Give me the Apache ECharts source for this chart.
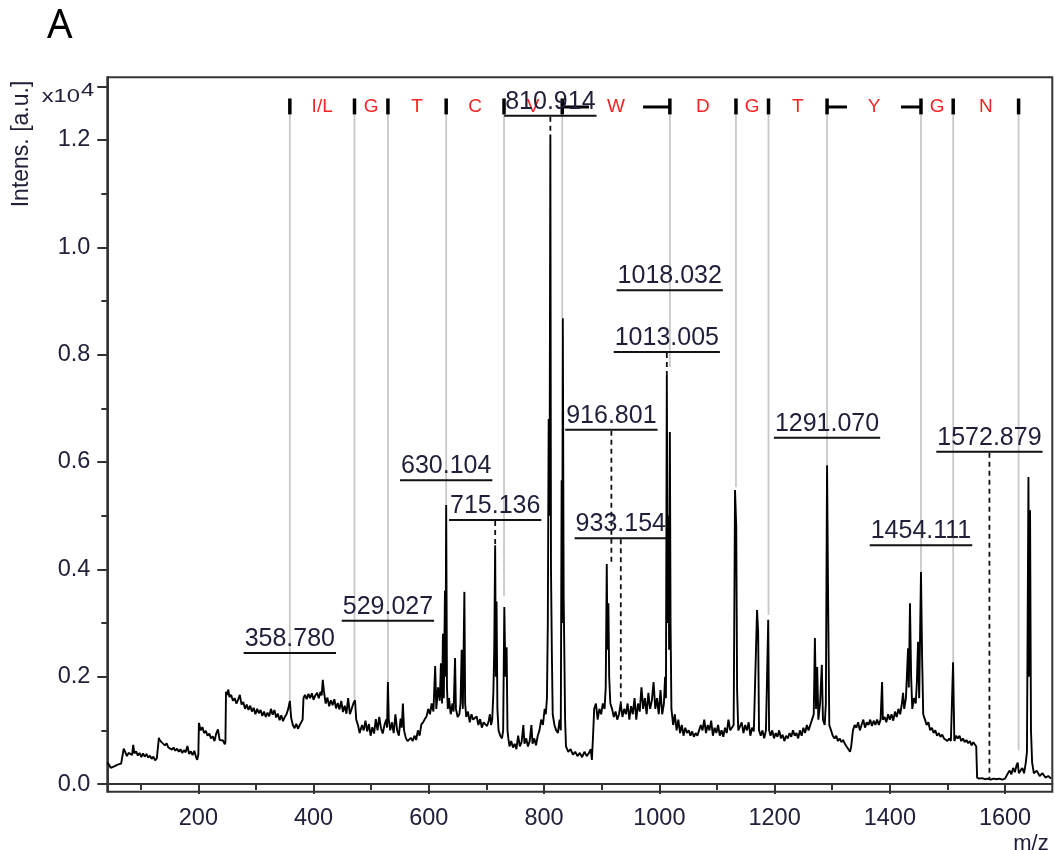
<!DOCTYPE html>
<html>
<head>
<meta charset="utf-8">
<script src="https://cdn.jsdelivr.net/npm/echarts@6.0.0/dist/echarts.min.js"></script>
<style>
html,body{margin:0;padding:0;background:#fff;}
#chart{width:1055px;height:850px;}
</style>
</head>
<body>
<div id="chart"></div>
<script>
// ---------- DATA ----------
// x-axis (m/z) and y-axis (intensity x10^4) ticks
const xMajorTicks = [200, 400, 600, 800, 1000, 1200, 1400, 1600];
const xMinorTicks = [100, 200, 300, 400, 500, 600, 700, 800, 900, 1000, 1100, 1200, 1300, 1400, 1500, 1600];
const yMajorTicks = [0, 0.2, 0.4, 0.6, 0.8, 1.0, 1.2, 1.3];
const yLabelTicks = [0, 0.2, 0.4, 0.6, 0.8, 1.0, 1.2];
const yMinorTicks = [0, 0.1, 0.2, 0.3, 0.4, 0.5, 0.6, 0.7, 0.8, 0.9, 1.0, 1.1, 1.2, 1.3];

// spectrum [m/z, intensity (x10^4 a.u.)]
const spectrum = [
[42,0.040],[45,0.036],[48,0.030],[51,0.028],[54,0.033],[57,0.030],[60,0.036],[63,0.034],[66,0.038],[69,0.035],
[70.5,0.066],[73,0.060],[76,0.052],[79,0.058],[82,0.061],[85,0.054],[87,0.073],[89,0.057],[92,0.061],[95,0.053],
[98,0.058],[101,0.050],[104,0.057],[107,0.051],[110,0.056],[113,0.049],[116,0.053],[119,0.047],[122,0.051],[125,0.044],
[128,0.048],[130,0.046],[131.5,0.086],[133,0.082],[136,0.078],[139,0.081],[142,0.072],[145,0.076],[148,0.068],[151,0.071],
[154,0.064],[157,0.068],[160,0.062],[163,0.066],[166,0.060],[169,0.065],[172,0.058],[175,0.063],[178,0.059],[181,0.071],
[184,0.056],[187,0.061],[190,0.054],[193,0.062],[196,0.050],[198,0.045],[200,0.055],[201,0.114],[204,0.100],[207,0.106],
[210,0.095],[213,0.099],[216,0.090],[219,0.094],[222,0.085],[225,0.089],[228,0.080],[231,0.094],[234,0.102],[237,0.082],
[240,0.079],[243,0.081],[246,0.074],[247,0.078],[248,0.172],[250,0.166],[252,0.176],[254,0.162],[257,0.166],[260,0.155],
[263,0.160],[266,0.150],[269,0.157],[272,0.166],[275,0.148],[278,0.153],[281,0.140],[284,0.148],[287,0.138],[290,0.146],
[293,0.135],[296,0.142],[299,0.130],[302,0.140],[305,0.132],[308,0.138],[311,0.127],[314,0.135],[317,0.125],[320,0.133],
[323,0.126],[326,0.140],[329,0.129],[332,0.138],[335,0.124],[338,0.131],[341,0.119],[344,0.128],[347,0.117],[350,0.125],
[353,0.130],[356,0.140],[358.8,0.155],[361,0.124],[364,0.110],[367,0.104],[370,0.112],[373,0.103],[376,0.110],[379,0.107],
[381,0.120],[382.5,0.160],[385,0.166],[388,0.158],[391,0.168],[394,0.160],[397,0.169],[400,0.157],[403,0.165],[406,0.170],
[409,0.160],[412,0.172],[414,0.165],[416,0.194],[418,0.172],[421,0.150],[424,0.161],[427,0.145],[430,0.156],[433,0.147],
[436,0.158],[439,0.141],[442,0.151],[445,0.139],[448,0.155],[451,0.134],[454,0.146],[457,0.131],[460,0.160],[463,0.130],
[466,0.140],[469,0.150],[471.9,0.156],[474,0.120],[477,0.110],[480,0.095],[481,0.095],[484,0.110],[487,0.100],[490,0.118],
[493,0.098],[496,0.112],[499,0.090],[502,0.106],[505,0.094],[508,0.121],[511,0.100],[514,0.125],[517,0.104],[520,0.094],
[523,0.110],[526,0.120],[527.5,0.105],[529,0.190],[530.5,0.120],[533,0.100],[536,0.115],[539,0.095],[542,0.130],[545,0.100],
[548,0.090],[551,0.122],[553,0.105],[555,0.150],[557,0.100],[560,0.086],[563,0.080],[566,0.077],[569,0.086],[572,0.080],
[575,0.090],[578,0.082],[581,0.100],[584,0.090],[587,0.111],[590,0.115],[593,0.121],[596,0.126],[599,0.140],[602,0.130],
[605,0.150],[608,0.135],[611,0.220],[613,0.140],[616,0.180],[619,0.155],[621,0.225],[623,0.150],[624.5,0.280],[626,0.160],
[628,0.360],[629,0.200],[630.1,0.520],[631.5,0.180],[633,0.140],[635,0.160],[638,0.130],[641,0.150],[643,0.135],[645.5,0.235],
[647,0.140],[650,0.125],[653,0.130],[655,0.150],[657,0.250],[659,0.140],[661.7,0.358],[663,0.150],[665,0.125],[668,0.135],
[671,0.115],[674,0.130],[677,0.120],[680,0.118],[683,0.126],[686,0.110],[689,0.121],[692,0.105],[695,0.115],[698,0.112],
[701,0.108],[704,0.118],[706,0.130],[708,0.110],[710,0.120],[712,0.170],[713.5,0.250],[715.1,0.445],[716.3,0.200],[717.5,0.340],
[719,0.140],[721,0.100],[724,0.090],[727,0.085],[729,0.100],[731,0.330],[733,0.200],[735,0.255],[736.5,0.100],[738,0.085],
[740,0.070],[743,0.080],[746,0.068],[749,0.075],[752,0.065],[755,0.090],[758,0.070],[761,0.078],[764,0.110],[766,0.075],
[769,0.085],[772,0.070],[775,0.080],[778,0.110],[780,0.075],[783,0.085],[786,0.072],[789,0.090],[792,0.100],[795,0.120],
[798,0.110],[801,0.140],[803,0.130],[805,0.160],[806.5,0.300],[808,0.680],[809.5,0.500],[810.9,1.210],[812,0.400],[813.5,0.244],
[815,0.130],[818,0.110],[821,0.100],[824,0.095],[827,0.120],[829,0.100],[830.5,0.566],[831.5,0.300],[832.5,0.868],[834,0.350],
[835,0.347],[836.5,0.120],[838,0.070],[842,0.060],[846,0.065],[850,0.055],[854,0.060],[858,0.052],[862,0.058],[866,0.050],
[870,0.060],[874,0.052],[878,0.058],[881,0.065],[883,0.045],[885,0.090],[887,0.140],[890,0.150],[893,0.120],[896,0.140],
[899,0.130],[902,0.150],[905,0.140],[907,0.180],[908.8,0.410],[910,0.250],[911.6,0.337],[913,0.200],[915,0.150],[918,0.140],
[921,0.125],[924,0.135],[927,0.120],[930,0.130],[933,0.150],[936,0.125],[939,0.140],[942,0.130],[945,0.150],[948,0.120],
[951,0.145],[954,0.130],[957,0.160],[960,0.120],[963,0.150],[966,0.135],[969,0.180],[972,0.140],[975,0.160],[978,0.130],
[981,0.170],[984,0.140],[987,0.155],[990,0.190],[993,0.140],[996,0.160],[999,0.130],[1002,0.175],[1005,0.130],[1008,0.150],
[1010,0.200],[1011.5,0.160],[1013,0.762],[1014.5,0.300],[1016,0.500],[1017,0.250],[1018.3,0.656],[1019.5,0.300],[1021,0.140],[1024,0.110],
[1027,0.130],[1030,0.100],[1033,0.120],[1036,0.095],[1039,0.110],[1042,0.090],[1045,0.105],[1048,0.095],[1051,0.100],[1054,0.090],
[1057,0.098],[1060,0.088],[1063,0.095],[1066,0.090],[1069,0.100],[1072,0.110],[1075,0.100],[1078,0.120],[1081,0.095],[1084,0.110],
[1087,0.100],[1090,0.118],[1093,0.090],[1096,0.105],[1099,0.095],[1102,0.110],[1105,0.090],[1108,0.100],[1111,0.088],[1114,0.105],
[1117,0.095],[1120,0.120],[1123,0.100],[1126,0.105],[1129,0.110],[1131.4,0.548],[1133.5,0.480],[1135,0.175],[1137,0.100],[1140,0.100],
[1143,0.115],[1146,0.095],[1149,0.110],[1152,0.100],[1155,0.115],[1158,0.090],[1161,0.105],[1164,0.098],[1167,0.100],[1169.6,0.324],
[1171.5,0.283],[1173,0.100],[1176,0.090],[1179,0.100],[1182,0.085],[1185,0.100],[1187,0.200],[1189,0.306],[1190.5,0.100],[1193,0.090],
[1196,0.100],[1199,0.085],[1202,0.095],[1205,0.088],[1208,0.100],[1211,0.085],[1214,0.092],[1217,0.080],[1220,0.090],[1223,0.085],
[1226,0.095],[1229,0.088],[1232,0.100],[1235,0.090],[1238,0.095],[1241,0.085],[1244,0.100],[1247,0.090],[1250,0.105],[1253,0.095],
[1256,0.110],[1259,0.100],[1262,0.110],[1265,0.120],[1268,0.130],[1270,0.272],[1272,0.140],[1274,0.218],[1276,0.120],[1279,0.150],
[1282,0.222],[1284,0.120],[1287,0.110],[1289,0.150],[1291.1,0.594],[1293,0.334],[1295,0.110],[1298,0.100],[1301,0.090],[1304,0.085],
[1307,0.090],[1310,0.080],[1313,0.085],[1316,0.078],[1319,0.082],[1322,0.075],[1325,0.070],[1328,0.068],[1331,0.060],[1333,0.070],
[1336,0.100],[1339,0.110],[1342,0.105],[1345,0.115],[1348,0.100],[1351,0.110],[1354,0.120],[1357,0.105],[1360,0.115],[1363,0.110],
[1366,0.120],[1369,0.108],[1372,0.118],[1375,0.110],[1378,0.120],[1381,0.110],[1384,0.120],[1386.6,0.190],[1388,0.120],[1391,0.125],
[1394,0.115],[1397,0.130],[1400,0.120],[1403,0.130],[1406,0.118],[1409,0.135],[1412,0.125],[1415,0.140],[1418,0.130],[1421,0.150],
[1423,0.170],[1425,0.140],[1428,0.160],[1431.7,0.253],[1433,0.180],[1435,0.337],[1437,0.200],[1439,0.140],[1442,0.160],[1445,0.150],
[1447,0.190],[1449,0.265],[1451,0.160],[1454.1,0.395],[1456,0.240],[1458,0.130],[1461,0.120],[1464,0.110],[1467,0.115],[1470,0.100],
[1473,0.105],[1476,0.095],[1479,0.100],[1482,0.090],[1485,0.095],[1488,0.088],[1491,0.092],[1494,0.085],[1497,0.088],[1500,0.080],
[1503,0.085],[1506,0.080],[1509.8,0.227],[1512,0.080],[1515,0.090],[1518,0.085],[1521,0.090],[1524,0.080],[1527,0.085],[1530,0.078],
[1533,0.082],[1536,0.076],[1539,0.080],[1542,0.072],[1545,0.078],[1548,0.075],[1550,0.070],[1551.5,0.012],[1555,0.010],[1560,0.011],
[1565,0.009],[1570,0.010],[1575,0.008],[1580,0.010],[1585,0.009],[1590,0.010],[1595,0.008],[1600,0.010],[1603,0.009],[1605,0.020],
[1608,0.025],[1611,0.018],[1614,0.030],[1617,0.022],[1620,0.035],[1622,0.040],[1624,0.020],[1627,0.025],[1630,0.030],[1633,0.020],
[1636,0.040],[1638,0.060],[1640.6,0.572],[1642,0.200],[1643.4,0.510],[1645,0.100],[1647,0.040],[1650,0.020],[1655,0.025],[1660,0.015],
[1665,0.020],[1670,0.012],[1675,0.015],[1680,0.010]
];

// sequence ladder
const seqIons    = [358.8, 471.0, 529.0, 630.1, 730.5, 831.5, 1018.3, 1133.0, 1189.5, 1291.1, 1454.1, 1510.0, 1623.5];
const seqLetters = ["I/L", "G", "T", "C", "V", "W", "D", "G", "T", "Y", "G", "N"];
const seqLineEnds = [0.153, 0.156, 0.19, 0.52, 0.35, 0.868, 0.777, 0.553, 0.315, 0.594, 0.395, 0.227, 0.063];
const seqLevel = 1.2615;

// annotated peaks
const peakLabels = ["358.780", "529.027", "630.104", "715.136", "810.914", "916.801", "933.154", "1013.005", "1018.032", "1291.070", "1454.111", "1572.879"];
const peakMz     = [358.78, 529.027, 630.104, 715.136, 810.914, 916.801, 933.154, 1013.005, 1018.032, 1291.07, 1454.111, 1572.879];
const labelLevel = [0.244, 0.304, 0.566, 0.492, 1.245, 0.660, 0.458, 0.805, 0.920, 0.645, 0.445, 0.619];
const dashEnd    = [null, null, null, 0.445, 1.21, 0.41, 0.143, 0.762, null, null, null, 0.01];

// ---------- CHART ----------
const FONT = '"Liberation Sans", Arial, sans-serif';
const labelFont = '25px ' + FONT;
const mctx = document.createElement('canvas').getContext('2d');
mctx.font = labelFont;
const labelWidths = peakLabels.map(t => mctx.measureText(t).width);

const X_MIN = 42, X_MAX = 1682, Y_MIN = -0.0143, Y_MAX = 1.3168;

const chart = echarts.init(document.getElementById('chart'), null, {renderer: 'canvas'});

const option = {
  animation: false,
  backgroundColor: '#ffffff',
  grid: {left: 107.3, right: 2.7, top: 77.3, bottom: 58.3, show: true, borderColor: '#333', borderWidth: 2},
  xAxis: [
    {
      type: 'value', min: X_MIN, max: X_MAX,
      axisLine: {show: true, lineStyle: {color: '#333', width: 2}},
      axisTick: {show: true, length: 10, customValues: xMajorTicks, lineStyle: {color: '#333', width: 2}},
      axisLabel: {show: true, customValues: xMajorTicks, margin: 15, color: '#20203a',
                  fontFamily: FONT, fontSize: 23.5, formatter: v => String(v)},
      splitLine: {show: false}
    },
    {
      type: 'value', min: X_MIN, max: X_MAX, position: 'bottom',
      axisLine: {show: false},
      axisTick: {show: true, length: 6, customValues: xMinorTicks, lineStyle: {color: '#333', width: 2}},
      axisLabel: {show: false},
      splitLine: {show: false}
    }
  ],
  yAxis: [
    {
      type: 'value', min: Y_MIN, max: Y_MAX,
      axisLine: {show: true, lineStyle: {color: '#333', width: 2}},
      axisTick: {show: true, length: 10, customValues: yMajorTicks, lineStyle: {color: '#333', width: 2}},
      axisLabel: {show: true, customValues: yLabelTicks, margin: 17, color: '#20203a',
                  fontFamily: FONT, fontSize: 23.5, formatter: v => v.toFixed(1)},
      splitLine: {show: false}
    },
    {
      type: 'value', min: Y_MIN, max: Y_MAX, position: 'left',
      axisLine: {show: false},
      axisTick: {show: true, length: 6, customValues: yMinorTicks, lineStyle: {color: '#333', width: 2}},
      axisLabel: {show: false},
      splitLine: {show: false}
    }
  ],
  graphic: [
    {type: 'text', left: 47, top: 7, style: {text: 'A', font: '40px "Noto Sans", sans-serif', fill: '#000'}},
    {type: 'text', x: 22, y: 144, rotation: Math.PI / 2,
     style: {text: 'Intens. [a.u.]', font: '23px ' + FONT, fill: '#20203a', align: 'center', verticalAlign: 'middle'}},
    {type: 'text', x: 80, y: 97, scaleX: 1.25, originX: 0, originY: 0,
     style: {text: 'x10', font: '19px ' + FONT, fill: '#20203a', align: 'right', verticalAlign: 'middle'}},
    {type: 'text', x: 81, y: 90.5, scaleX: 1.25, originX: 0, originY: 0,
     style: {text: '4', font: '19px ' + FONT, fill: '#20203a', align: 'left', verticalAlign: 'middle'}},
    {type: 'text', x: 1031, y: 844, style: {text: 'm/z', font: '22px ' + FONT, fill: '#20203a', align: 'center', verticalAlign: 'middle'}}
  ],
  series: [
    {
      // grey assignment lines from ladder down to peaks
      type: 'custom', xAxisIndex: 0, yAxisIndex: 0, z: 1, silent: true,
      data: seqIons.map((m, i) => [m, seqLineEnds[i]]),
      renderItem: (params, api) => {
        const top = api.coord([api.value(0), seqLevel]);
        const bot = api.coord([api.value(0), api.value(1)]);
        return {type: 'line', shape: {x1: top[0], y1: top[1] + 8, x2: bot[0], y2: bot[1]},
                style: {stroke: '#c8c8c8', lineWidth: 1.8}};
      }
    },
    {
      type: 'line', xAxisIndex: 0, yAxisIndex: 0, z: 3, silent: true,
      data: spectrum, showSymbol: false, symbol: 'none',
      lineStyle: {color: '#000', width: 1.9}, clip: true
    },
    {
      // sequence ladder ticks + residue letters
      type: 'custom', xAxisIndex: 0, yAxisIndex: 0, z: 4, silent: true,
      data: seqIons.map(m => [m, seqLevel]),
      renderItem: (params, api) => {
        const i = params.dataIndex;
        const p = api.coord([api.value(0), seqLevel]);
        const children = [
          {type: 'rect', shape: {x: p[0] - 1.75, y: p[1] - 8.5, width: 3.5, height: 16}, style: {fill: '#000'}}
        ];
        if (i < seqLetters.length) {
          const q = api.coord([seqIons[i + 1], seqLevel]);
          const cx = (p[0] + q[0]) / 2;
          children.push({type: 'text', x: cx, y: p[1], style: {text: seqLetters[i], font: '19px ' + FONT,
                         fill: '#f52323', align: 'center', verticalAlign: 'middle'}});
          if (q[0] - p[0] > 80) {
            children.push({type: 'line', shape: {x1: p[0], y1: p[1], x2: cx - 27, y2: p[1]}, style: {stroke: '#000', lineWidth: 3}});
            children.push({type: 'line', shape: {x1: cx + 27, y1: p[1], x2: q[0], y2: p[1]}, style: {stroke: '#000', lineWidth: 3}});
          }
        }
        return {type: 'group', children};
      }
    },
    {
      // peak m/z labels with underline and dashed leader
      type: 'custom', xAxisIndex: 0, yAxisIndex: 0, z: 5, silent: true,
      data: peakMz.map((m, i) => [m, labelLevel[i]]),
      renderItem: (params, api) => {
        const i = params.dataIndex;
        const p = api.coord([api.value(0), api.value(1)]);
        const w = labelWidths[i];
        const children = [
          {type: 'text', x: p[0], y: p[1] - 14, style: {text: peakLabels[i], font: labelFont, fill: '#1f1f3a',
                                                       align: 'center', verticalAlign: 'middle'}},
          {type: 'line', shape: {x1: p[0] - w / 2 - 1, y1: p[1], x2: p[0] + w / 2 + 1, y2: p[1]},
           style: {stroke: '#111', lineWidth: 2}}
        ];
        if (dashEnd[i] !== null) {
          const q = api.coord([api.value(0), dashEnd[i]]);
          children.push({type: 'line', shape: {x1: p[0], y1: p[1] + 1, x2: p[0], y2: q[1]},
                         style: {stroke: '#111', lineWidth: 1.8, lineDash: [5, 4]}});
        }
        return {type: 'group', children};
      }
    }
  ]
};
chart.setOption(option);
</script>
</body>
</html>
